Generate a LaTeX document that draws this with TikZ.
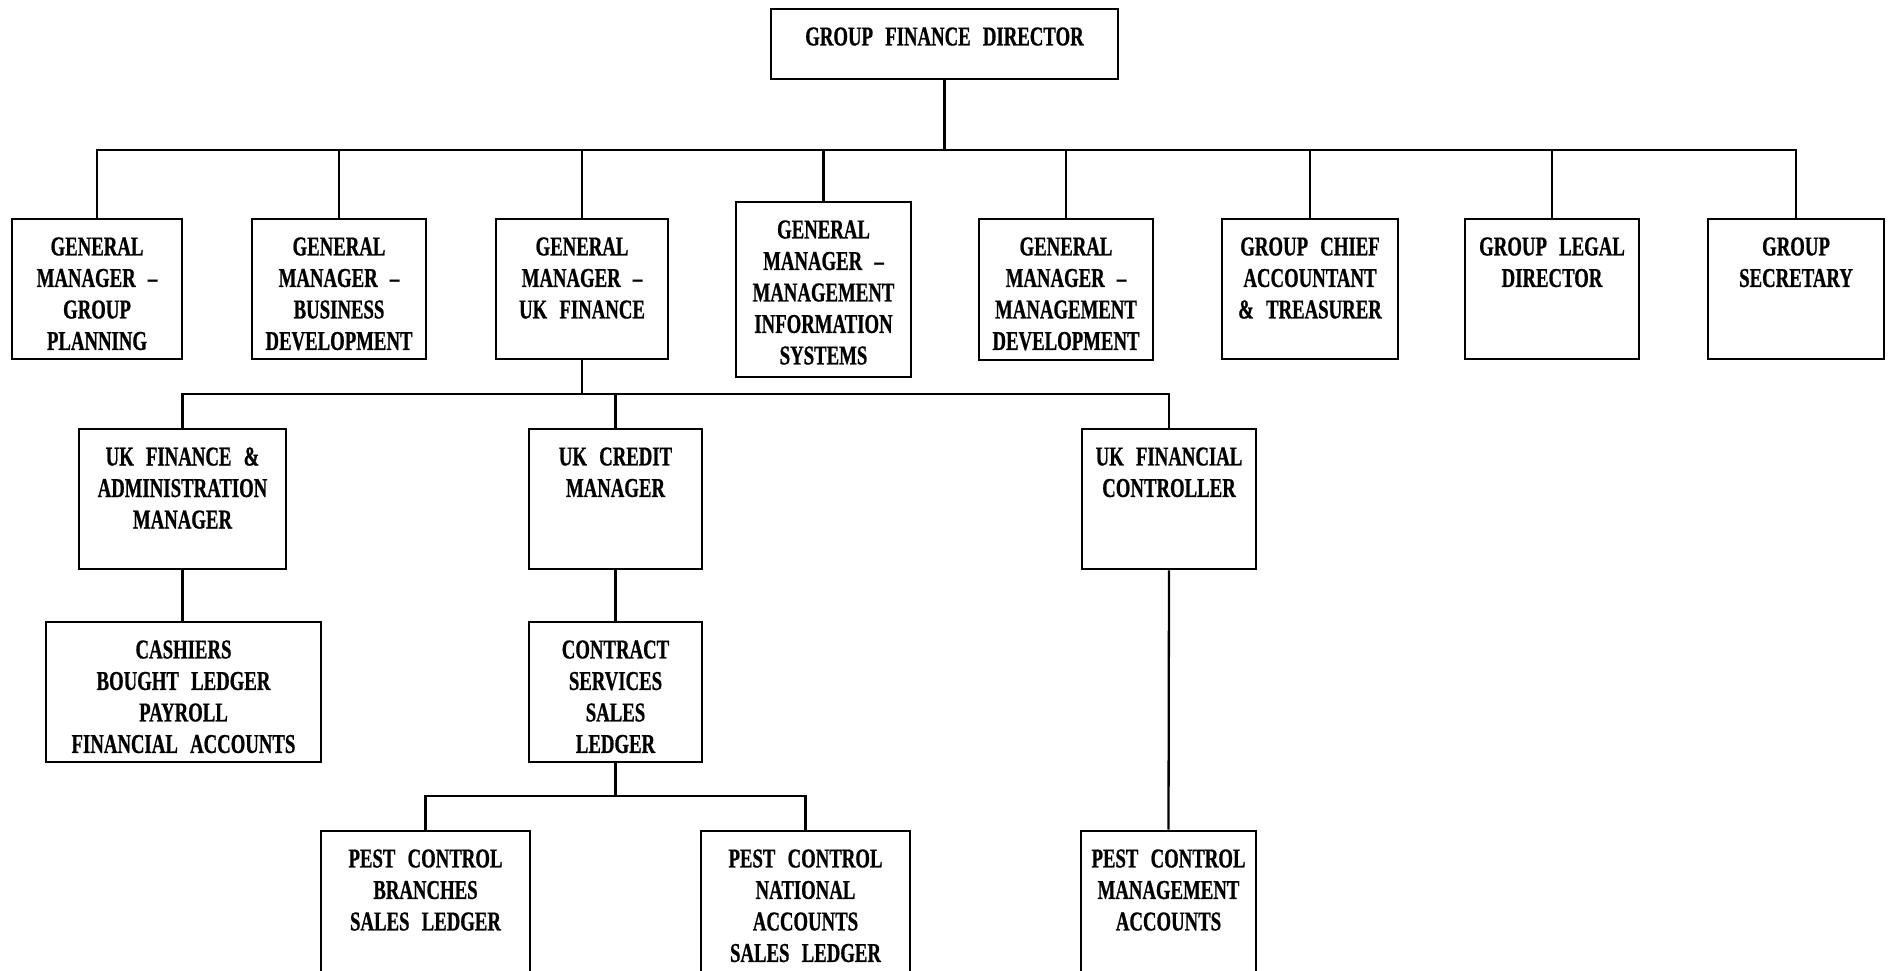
\documentclass[tikz,border=0pt]{standalone}
\usepackage{fontspec}
\newfontfamily\orgfont[FakeStretch=0.69,WordSpace=2.6,FakeBold=0.7]{Liberation Serif Bold}
\tikzset{
  obox/.style={draw, line width=1.4pt, inner sep=0pt, rectangle},
  otext/.style={anchor=north, inner sep=0pt, align=center,
    font={\orgfont\fontsize{13.6}{15.75}\selectfont}},
  conn/.style={line width=1.15pt},
}
\newcommand\ob[6]{%
  \node[obox, minimum width={(#4-#2)*0.5pt}, minimum height={(#5-#3)*0.5pt}] (#1) at ({(#2+#4)/2},{(#3+#5)/2}) {};
  \node[otext] (#1t) at ({(#2+#4)/2},{#3+18}) {#6};
}
\begin{document}
\begin{tikzpicture}[x=0.5pt,y=-0.5pt]
\useasboundingbox (0,0) rectangle (1889,970);
\clip (0,0) rectangle (1889,970);
\fill[white] (0,0) rectangle (1889,970);
% top
\ob{gfd}{771}{9}{1118}{79}{GROUP FINANCE DIRECTOR}
% row 1
\ob{ca}{12}{219}{182}{359}{GENERAL\\MANAGER –\\GROUP\\PLANNING}
\ob{cb}{252}{219}{426}{359}{GENERAL\\MANAGER –\\BUSINESS\\DEVELOPMENT}
\ob{cc}{496}{219}{668}{359}{GENERAL\\MANAGER –\\UK FINANCE}
\ob{cd}{736}{202}{911}{377}{GENERAL\\MANAGER –\\MANAGEMENT\\INFORMATION\\SYSTEMS}
\ob{ce}{979}{219}{1153}{360}{GENERAL\\MANAGER –\\MANAGEMENT\\DEVELOPMENT}
\ob{cf}{1222}{219}{1398}{359}{GROUP CHIEF\\ACCOUNTANT\\\& TREASURER}
\ob{cg}{1465}{219}{1639}{359}{GROUP LEGAL\\DIRECTOR}
\ob{ch}{1708}{219}{1884}{359}{GROUP\\SECRETARY}
% row 2
\ob{ra}{79}{429}{286}{569}{UK FINANCE \&\\ADMINISTRATION\\MANAGER}
\ob{rb}{529}{429}{702}{569}{UK CREDIT\\MANAGER}
\ob{rc}{1082}{429}{1256}{569}{UK FINANCIAL\\CONTROLLER}
% row 3
\ob{cash}{46}{622}{321}{762}{CASHIERS\\BOUGHT LEDGER\\PAYROLL\\FINANCIAL ACCOUNTS}
\ob{cont}{529}{622}{702}{762}{CONTRACT\\SERVICES\\SALES\\LEDGER}
% row 4
\ob{pcb}{321}{831}{530}{1010}{PEST CONTROL\\BRANCHES\\SALES LEDGER}
\ob{pcn}{701}{831}{910}{1010}{PEST CONTROL\\NATIONAL\\ACCOUNTS\\SALES LEDGER}
\ob{pcm}{1081}{831}{1256}{1010}{PEST CONTROL\\MANAGEMENT\\ACCOUNTS}
% connectors
\coordinate (busa) at (945,150);
\draw[conn] (gfd.south) -- (gfd.south |- busa);
\draw[conn] (ca.north) -- (ca.north |- busa) -- (ch.north |- busa) -- (ch.north);
\foreach \n in {cb,cc,cd,ce,cf,cg} \draw[conn] (\n.north) -- (\n.north |- busa);
\coordinate (busb) at (582,394);
\draw[conn] (cc.south) -- (cc.south |- busb);
\draw[conn] (ra.north) -- (ra.north |- busb) -- (rc.north |- busb) -- (rc.north);
\draw[conn] (rb.north) -- (rb.north |- busb);
\draw[conn] (ra.south) -- (ra.south |- cash.north);
\draw[conn] (rb.south) -- (cont.north);
\coordinate (busc) at (615,796);
\draw[conn] (cont.south) -- (cont.south |- busc);
\draw[conn] (pcb.north) -- (pcb.north |- busc) -- (pcn.north |- busc) -- (pcn.north);
\draw[conn] (rc.south) -- (pcm.north);
\end{tikzpicture}
\end{document}
